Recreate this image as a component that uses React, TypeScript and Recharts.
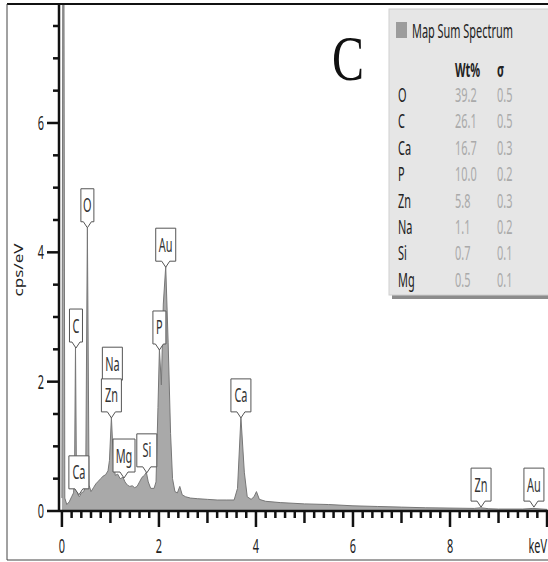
import React from 'react';
import { ComposedChart, Area, XAxis, YAxis, ReferenceDot } from 'recharts';

// ---- spectrum data (keV, cps/eV) ----
const energyKeV = [
  0.0, 0.02, 0.04, 0.06, 0.1, 0.15, 0.2, 0.24, 0.26, 0.28, 0.3, 0.33, 0.36, 0.4, 0.45, 0.49, 0.525, 0.56,
  0.6, 0.65, 0.7, 0.75, 0.8, 0.85, 0.9, 0.95, 0.98, 1.02, 1.06, 1.1, 1.15, 1.2, 1.26, 1.3, 1.35, 1.4,
  1.45, 1.5, 1.55, 1.6, 1.65, 1.7, 1.74, 1.78, 1.83, 1.9, 1.94, 1.98, 2.01, 2.05, 2.09, 2.14, 2.19, 2.24,
  2.28, 2.33, 2.38, 2.43, 2.48, 2.55, 2.65, 2.8, 3.0, 3.2, 3.4, 3.55, 3.62, 3.69, 3.76, 3.82, 3.9, 3.96,
  4.01, 4.07, 4.2, 4.5, 5.0, 5.5, 6.0, 6.5, 7.0, 7.5, 8.0, 8.5, 8.63, 8.8, 9.0, 9.5, 9.71, 10.0,
];
const cpsPerEV = [
  0.2, 9.0, 9.0, 0.2, 0.1, 0.14, 0.22, 0.28, 0.5, 2.55, 0.5, 0.25, 0.22, 0.28, 0.3, 0.4, 4.38, 0.4,
  0.3, 0.36, 0.42, 0.46, 0.5, 0.54, 0.56, 0.62, 0.78, 1.45, 0.8, 0.55, 0.57, 0.5, 0.52, 0.45, 0.4, 0.38,
  0.39, 0.36, 0.38, 0.45, 0.52, 0.55, 0.6, 0.45, 0.35, 0.35, 0.45, 1.6, 2.5, 1.95, 3.2, 3.78, 2.6, 1.2,
  0.5, 0.3, 0.28, 0.38, 0.25, 0.22, 0.2, 0.19, 0.18, 0.17, 0.17, 0.17, 0.35, 1.45, 0.6, 0.22, 0.18, 0.22,
  0.3, 0.18, 0.15, 0.13, 0.11, 0.1, 0.08, 0.07, 0.06, 0.05, 0.045, 0.04, 0.05, 0.035, 0.03, 0.03, 0.04, 0.025,
];

// ---- peak labels ----
const labelNames = ['C', 'O', 'Ca', 'Na', 'Zn', 'Mg', 'Si', 'P', 'Au', 'Ca', 'Zn', 'Au'];
const labelKeV = [0.29, 0.525, 0.35, 1.04, 1.02, 1.28, 1.75, 2.01, 2.14, 3.69, 8.64, 9.73];
const labelTip = [2.52, 4.38, 0.25, 1.93, 1.44, 0.51, 0.59, 2.49, 3.77, 1.44, 0.06, 0.06];

// ---- quantification table ----
const tableElements = ['O', 'C', 'Ca', 'P', 'Zn', 'Na', 'Si', 'Mg'];
const tableWt = ['39.2', '26.1', '16.7', '10.0', '5.8', '1.1', '0.7', '0.5'];
const tableSigma = ['0.5', '0.5', '0.3', '0.2', '0.3', '0.2', '0.1', '0.1'];

// ---- ticks ----
const xTicks = [
  0, 0.2, 0.4, 0.6, 0.8, 1, 1.2, 1.4, 1.6, 1.8, 2, 2.2, 2.4, 2.6, 2.8, 3, 3.2, 3.4, 3.6, 3.8, 4,
  4.2, 4.4, 4.6, 4.8, 5, 5.2, 5.4, 5.6, 5.8, 6, 6.2, 6.4, 6.6, 6.8, 7, 7.2, 7.4, 7.6, 7.8, 8,
  8.2, 8.4, 8.6, 8.8, 9, 9.2, 9.4, 9.6, 9.8, 10,
];
const xTickLabels: Record<number, string> = { 0: '0', 2: '2', 4: '4', 6: '6', 8: '8', 10: 'keV' };
const yTicks = [0, 0.5, 1, 1.5, 2, 2.5, 3, 3.5, 4, 4.5, 5, 5.5, 6, 6.5, 7, 7.5];
const yTickLabels: Record<number, string> = { 0: '0', 2: '2', 4: '4', 6: '6' };

const data = energyKeV.map((k, i) => ({ kev: k, cps: cpsPerEV[i] }));

const FONT = "'Noto Sans', 'Open Sans', sans-serif";
const SX = 0.56;
const FS = 19.5;

const ST = ({ x, y, size = FS, anchor = 'start', fill = '#222', weight = 'normal', sx = SX, children }: any) => (
  <text
    transform={`translate(${x},${y}) scale(${sx},1)`}
    fontSize={size}
    textAnchor={anchor}
    fill={fill}
    fontWeight={weight}
    fontFamily={FONT}
  >
    {children}
  </text>
);

const XTick = (props: any) => {
  const { x, y, payload } = props;
  const v = Math.round(payload.value * 10) / 10;
  const isInt = Math.abs(v - Math.round(v)) < 1e-6;
  const major = isInt && Math.round(v) % 2 === 0;
  const len = major ? 16 : isInt ? 12 : 7;
  const label = major ? xTickLabels[Math.round(v)] : undefined;
  const isUnit = label === 'keV';
  return (
    <g>
      <line x1={x} x2={x} y1={y} y2={y + len} stroke="#111" strokeWidth={2.5} />
      {label !== undefined && (
        <ST x={isUnit ? x : x} y={y + 42} anchor={isUnit ? 'end' : 'middle'}>
          {label}
        </ST>
      )}
    </g>
  );
};

const YTick = (props: any) => {
  const { x, y, payload } = props;
  const v = payload.value;
  const label = yTickLabels[v];
  const len = label !== undefined ? 12 : 6;
  return (
    <g>
      <line x1={x - len} x2={x} y1={y} y2={y} stroke="#111" strokeWidth={2.5} />
      {label !== undefined && <ST x={x - 15} y={y + 7} anchor="end">{label}</ST>}
    </g>
  );
};

const Callout = ({ cx, cy, text }: any) => {
  const w = text.length === 1 ? 13 : text === 'Mg' ? 22 : 20;
  const h = 33;
  const p = 6;
  const bottom = cy - p;
  const top = bottom - h;
  const l = cx - w / 2;
  const r = cx + w / 2;
  const d = `M${l},${top} L${r},${top} L${r},${bottom} L${cx + 4},${bottom} L${cx},${cy} L${cx - 4},${bottom} L${l},${bottom} Z`;
  return (
    <g>
      <path d={d} fill="#fff" stroke="#555" strokeWidth={1} />
      <ST x={cx} y={top + h / 2 + 7} anchor="middle" fill="#333">{text}</ST>
    </g>
  );
};

const rowY0 = 95;
const rowStep = 26.4;

export default function App() {
  return (
    <div style={{ position: 'absolute', left: 0, top: 0, width: 548, height: 562, background: '#fff' }}>
      <ComposedChart width={548} height={562} data={data} margin={{ top: 4, right: 0, left: 0, bottom: 0 }}>
        <XAxis
          type="number"
          dataKey="kev"
          domain={[-0.06, 10.02]}
          allowDataOverflow
          ticks={xTicks}
          interval={0}
          tick={<XTick />}
          tickSize={0}
          tickMargin={0}
          tickLine={false}
          axisLine={{ stroke: '#111', strokeWidth: 2.5 }}
          height={51}
        />
        <YAxis
          type="number"
          domain={[0, 7.84]}
          allowDataOverflow
          ticks={yTicks}
          interval={0}
          tick={<YTick />}
          tickSize={0}
          tickMargin={0}
          tickLine={false}
          axisLine={{ stroke: '#111', strokeWidth: 2.5 }}
          width={59}
        />
        <Area
          type="linear"
          dataKey="cps"
          fill="#a9a9a9"
          fillOpacity={1}
          stroke="#777"
          strokeWidth={1}
          dot={false}
          activeDot={false}
          isAnimationActive={false}
        />
        {labelNames.map((n, i) => (
          <ReferenceDot
            key={i}
            x={labelKeV[i]}
            y={labelTip[i]}
            r={0}
            ifOverflow="visible"
            shape={(p: any) => <Callout cx={p.cx} cy={p.cy} text={n} />}
          />
        ))}
      </ComposedChart>
      <svg width={548} height={562} style={{ position: 'absolute', left: 0, top: 0, pointerEvents: 'none' }}>
        {/* frame */}
        <line x1={7} x2={548} y1={4} y2={4} stroke="#111" strokeWidth={2} />
        <line x1={7} x2={7} y1={4} y2={560} stroke="#444" strokeWidth={1} />
        <line x1={7} x2={548} y1={560} y2={560} stroke="#444" strokeWidth={1} />
        {/* y label */}
        <text
          transform="translate(23,270) rotate(-90) scale(1,0.7)"
          fontSize={17}
          textAnchor="middle"
          fill="#222"
          fontFamily={FONT}
        >
          cps/eV
        </text>
        {/* panel letter */}
        <text
          transform="translate(348,80) scale(0.75,1)"
          fontSize={64}
          textAnchor="middle"
          fill="#111"
          fontFamily="'Liberation Serif', 'DejaVu Serif', serif"
        >
          C
        </text>
        {/* legend box */}
        <rect x={392} y={12} width={160} height={287} fill="#666" opacity={0.75} />
        <rect x={389} y={9} width={160} height={286} fill="#e6e6e6" stroke="#cfcfcf" strokeWidth={1} />
        <rect x={396} y={22} width={11} height={16} fill="#9c9c9c" />
        <ST x={412} y={38} fill="#222">Map Sum Spectrum</ST>
        <ST x={455} y={77} fill="#222" weight="bold">Wt%</ST>
        <ST x={497} y={77} fill="#222" weight="bold">σ</ST>
        {tableElements.map((el, i) => (
          <g key={el}>
            <ST x={398} y={rowY0 + i * rowStep + 7} fill="#222">{el}</ST>
            <ST x={455} y={rowY0 + i * rowStep + 7} fill="#aaa">{tableWt[i]}</ST>
            <ST x={497} y={rowY0 + i * rowStep + 7} fill="#aaa">{tableSigma[i]}</ST>
          </g>
        ))}
      </svg>
    </div>
  );
}
